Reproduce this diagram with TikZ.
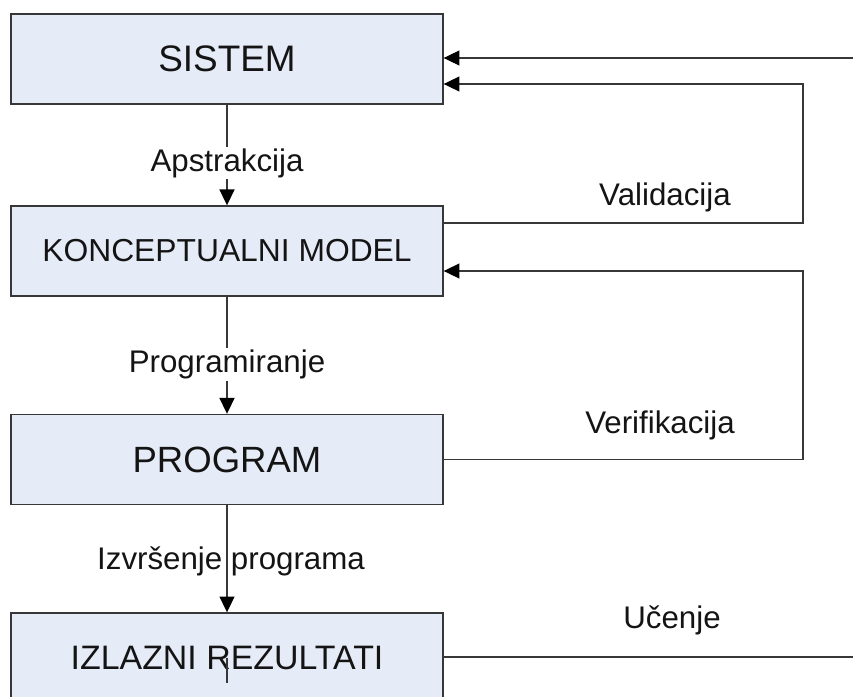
\documentclass[tikz,border=0pt]{standalone}
\usepackage{fontspec}
\setmainfont{Liberation Sans}
\usetikzlibrary{arrows.meta}
\definecolor{blokfill}{RGB}{230,236,247}
\definecolor{linija}{RGB}{55,55,55}
\definecolor{tekst}{RGB}{20,20,20}
\tikzset{
  blok/.style={draw=linija, fill=blokfill, line width=0.8pt, minimum width=8.64cm,
    minimum height=1.8cm, inner sep=0pt, text=tekst},
  veza/.style={draw=linija, line width=0.8pt},
  strelica/.style={veza, -{Triangle[length=9pt,width=8.5pt,color=black]}},
  oznaka/.style={fill=white, inner sep=1pt, text=tekst, font=\fontsize{17.8}{20}\selectfont},
}
\begin{document}
\begin{tikzpicture}[x=0.02cm,y=-0.02cm]
  \useasboundingbox (0,0) rectangle (853,697);
  \clip (0,0) rectangle (853,697);
  % blokovi
  \node[blok, font=\fontsize{21}{24}\selectfont] (sistem) at (227,59) {SISTEM};
  \node[blok, font=\fontsize{18.1}{21}\selectfont] (model) at (227,251) {KONCEPTUALNI MODEL};
  \node[blok, font=\fontsize{20.8}{24}\selectfont] (program) at (227,459.5) {PROGRAM};
  \node[blok, font=\fontsize{19.3}{22}\selectfont] (izlaz) at (227,658) {IZLAZNI REZULTATI};
  % tocke povratnih veza
  \coordinate (v1) at (803,223) ;
  \coordinate (v2) at (803,84) ;
  \coordinate (w1) at (803,459.5) ;
  \coordinate (w2) at (803,271) ;
  \coordinate (u1) at (880,657) ;
  \coordinate (u2) at (880,58) ;
  % glavni tok
  \draw[strelica] (sistem) -- node[oznaka, pos=0.58] (apstr) {Apstrakcija} (model);
  \draw[strelica] (model) -- node[oznaka, pos=0.58] (progr) {Programiranje} (program);
  \draw[strelica] (program) -- node[oznaka, pos=0.52, fill=none, xshift=2.3pt] (izvr) {Izvršenje programa} (izlaz);
  \draw[veza] (izlaz.center) -- ++(0,25);
  % povratne veze
  \draw[strelica] (model.east |- v1) -- (v1) -- (v2) -- (sistem.east |- v2);
  \draw[strelica] (program.east) -- (w1) -- (w2) -- (model.east |- w2);
  \draw[strelica] (izlaz.east |- u1) -- (u1) -- (u2) -- (sistem.east |- u2);
  \node[oznaka] (valid) at (665,197) {Validacija};
  \node[oznaka] (verif) at (660,425) {Verifikacija};
  \node[oznaka] (ucenje) at (672,620) {Učenje};
\end{tikzpicture}
\end{document}
